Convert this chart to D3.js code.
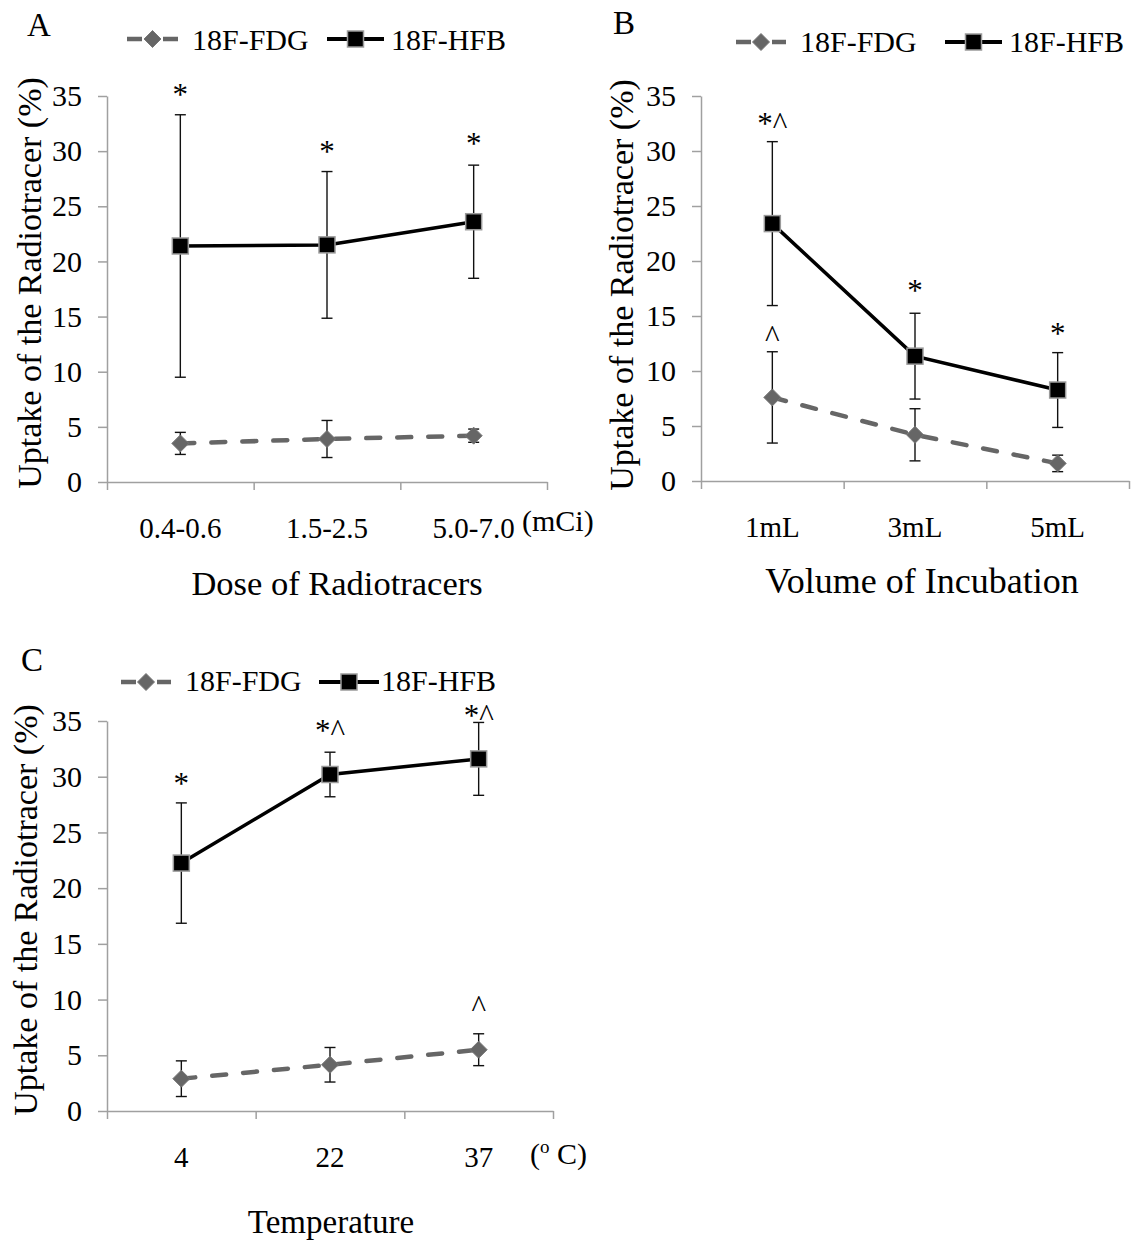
<!DOCTYPE html>
<html>
<head>
<meta charset="utf-8">
<script src="https://cdn.jsdelivr.net/npm/d3@7"></script>
<style>
  html, body { margin: 0; padding: 0; background: #fff; }
  svg { display: block; font-family: "Liberation Serif", "Times New Roman", serif; }
</style>
</head>
<body>
<svg id="fig" width="1133" height="1241"></svg>
<script>
// ---- shared ----
const seriesNames = ["18F-FDG", "18F-HFB"];
const yTicks = [0, 5, 10, 15, 20, 25, 30, 35];
const yLabel = "Uptake of the Radiotracer (%)";

// ---- A: dose of radiotracers ----
const doseCategories = ["0.4-0.6", "1.5-2.5", "5.0-7.0"];
const doseFdgMean = [3.5, 3.9, 4.2];
const doseFdgErr = [1.0, 1.68, 0.6];
const doseHfbMean = [21.4, 21.5, 23.6];
const doseHfbErr = [11.9, 6.65, 5.13];
const doseHfbNote = ["*", "*", "*"];
const doseHfbNoteAt = [35.5, 30.3, 31.1];
const doseFdgNote = ["", "", ""];
const doseFdgNoteAt = [null, null, null];

// ---- B: volume of incubation ----
const volumeCategories = ["1mL", "3mL", "5mL"];
const volumeFdgMean = [7.6, 4.2, 1.6];
const volumeFdgErr = [4.15, 2.37, 0.75];
const volumeHfbMean = [23.4, 11.35, 8.27];
const volumeHfbErr = [7.45, 3.9, 3.4];
const volumeHfbNote = ["*^", "*", "*"];
const volumeHfbNoteAt = [32.9, 17.7, 13.8];
const volumeFdgNote = ["^", "", ""];
const volumeFdgNoteAt = [13.5, null, null];

// ---- C: temperature ----
const tempCategories = ["4", "22", "37"];
const tempFdgMean = [2.9, 4.15, 5.5];
const tempFdgErr = [1.6, 1.55, 1.43];
const tempHfbMean = [22.25, 30.2, 31.6];
const tempHfbErr = [5.4, 2.0, 3.27];
const tempHfbNote = ["*", "*^", "*^"];
const tempHfbNoteAt = [29.8, 34.5, 35.85];
const tempFdgNote = ["", "", "^"];
const tempFdgNoteAt = [null, null, 9.75];

const FDG_COLOR = "#666666";
const HFB_COLOR = "#000000";
const AXIS_COLOR = "#a0a0a0";
const SERIF = "Liberation Serif, Times New Roman, serif";

const svg = d3.select("#fig");

function zipRows(cats, mean, err, note, noteAt) {
  return cats.map((c, i) => ({ cat: c, v: mean[i], e: err[i], note: note[i], at: noteAt[i] }));
}

function drawPanel(p) {
  const g = svg.append("g");
  const x = d3.scaleBand().domain(p.categories).range([p.x0, p.x1]).paddingInner(0).paddingOuter(0);
  const cx = c => x(c) + x.bandwidth() / 2;
  const y = d3.scaleLinear().domain([0, 35]).range([p.yBottom, p.yTop]);
  const edge = d3.scaleLinear().domain([0, p.categories.length]).range([p.x0, p.x1]);

  // y axis
  const ya = g.append("g").attr("transform", `translate(${p.x0},0)`)
    .call(d3.axisLeft(y).tickValues(yTicks).tickSize(9).tickSizeOuter(0).tickPadding(16));
  ya.attr("font-family", SERIF);
  ya.select(".domain").attr("stroke", AXIS_COLOR).attr("stroke-width", 1.5);
  ya.selectAll(".tick line").attr("stroke", AXIS_COLOR).attr("stroke-width", 1.5);
  ya.selectAll(".tick text").attr("font-size", 30).attr("fill", "#000");

  // x axis: boundary ticks between categories
  const xa = g.append("g").attr("transform", `translate(0,${p.yBottom})`)
    .call(d3.axisBottom(edge).tickValues(d3.range(p.categories.length + 1)).tickSize(8).tickSizeOuter(0).tickFormat(""));
  xa.select(".domain").attr("stroke", AXIS_COLOR).attr("stroke-width", 1.5);
  xa.selectAll(".tick line").attr("stroke", AXIS_COLOR).attr("stroke-width", 1.5);

  // category labels
  g.selectAll("text.cat").data(p.categories).join("text")
    .attr("class", "cat")
    .attr("x", d => cx(d)).attr("y", p.catBaseline)
    .attr("text-anchor", "middle").attr("font-size", 29).text(d => d);

  // unit label
  if (p.unit) {
    const u = g.append("text").attr("x", p.unit.x).attr("y", p.unit.y).attr("font-size", 30);
    p.unit.parts.forEach(part => {
      const t = u.append("tspan").text(part.t);
      if (part.size) t.attr("font-size", part.size);
      if (part.dy) t.attr("dy", part.dy);
    });
  }

  // axis titles
  g.append("text").attr("x", p.titleX).attr("y", p.titleY).attr("text-anchor", "middle")
    .attr("font-size", p.titleSize).text(p.title);
  g.append("text").attr("transform", `translate(${p.yLabelX},${p.yLabelY}) rotate(-90)`)
    .attr("text-anchor", "middle").attr("font-size", 34).text(yLabel);

  // panel letter
  g.append("text").attr("x", p.letterX).attr("y", p.letterY).attr("font-size", 33).text(p.letter);

  const series = [
    { rows: p.fdg, color: FDG_COLOR, dashed: true, marker: "diamond" },
    { rows: p.hfb, color: HFB_COLOR, dashed: false, marker: "square" }
  ];

  const line = d3.line().x(d => cx(d.cat)).y(d => y(d.v));
  const cap = 5.5;

  series.forEach(s => {
    const sg = g.append("g");
    // error bars
    const eb = sg.selectAll("g.err").data(s.rows).join("g").attr("class", "err")
      .attr("stroke", "#111").attr("stroke-width", 1.4);
    eb.append("line").attr("x1", d => cx(d.cat)).attr("x2", d => cx(d.cat))
      .attr("y1", d => y(d.v + d.e)).attr("y2", d => y(d.v - d.e));
    eb.append("line").attr("x1", d => cx(d.cat) - cap).attr("x2", d => cx(d.cat) + cap)
      .attr("y1", d => y(d.v + d.e)).attr("y2", d => y(d.v + d.e));
    eb.append("line").attr("x1", d => cx(d.cat) - cap).attr("x2", d => cx(d.cat) + cap)
      .attr("y1", d => y(d.v - d.e)).attr("y2", d => y(d.v - d.e));

    // connecting line
    const path = sg.append("path").datum(s.rows).attr("d", line).attr("fill", "none")
      .attr("stroke", s.color);
    if (s.dashed) {
      path.attr("stroke-width", 4.5).attr("stroke-dasharray", "14,17").attr("stroke-linecap", "round");
    } else {
      path.attr("stroke-width", 3.5);
    }

    // markers
    drawMarkers(sg, s.rows.map(d => [cx(d.cat), y(d.v)]), s.marker);

    // significance notes
    sg.selectAll("text.note").data(s.rows.filter(d => d.note)).join("text")
      .attr("class", "note")
      .attr("x", d => cx(d.cat)).attr("y", d => y(d.at)).attr("dy", "0.47em")
      .attr("text-anchor", "middle").attr("font-size", 31).text(d => d.note);
  });

  // legend
  const L = p.legend;
  const lg = g.append("g");
  lg.append("line").attr("x1", L.fdg[0]).attr("x2", L.fdg[1]).attr("y1", L.y).attr("y2", L.y)
    .attr("stroke", FDG_COLOR).attr("stroke-width", 4.5).attr("stroke-dasharray", "15,21,15");
  drawMarkers(lg, [[(L.fdg[0] + L.fdg[1]) / 2, L.y]], "diamond");
  lg.append("text").attr("x", L.fdgText).attr("y", L.textY).attr("font-size", 30).text(seriesNames[0]);
  lg.append("line").attr("x1", L.hfb[0]).attr("x2", L.hfb[1]).attr("y1", L.y).attr("y2", L.y)
    .attr("stroke", HFB_COLOR).attr("stroke-width", 4);
  drawMarkers(lg, [[(L.hfb[0] + L.hfb[1]) / 2, L.y]], "square");
  lg.append("text").attr("x", L.hfbText).attr("y", L.textY).attr("font-size", 30).text(seriesNames[1]);
}

function drawMarkers(sel, pts, kind) {
  if (kind === "diamond") {
    const r = 8.5;
    sel.selectAll(null).data(pts).join("path")
      .attr("d", d => `M${d[0]},${d[1] - r}L${d[0] + r},${d[1]}L${d[0]},${d[1] + r}L${d[0] - r},${d[1]}Z`)
      .attr("fill", FDG_COLOR).attr("stroke", "#777").attr("stroke-width", 1);
  } else {
    const h = 8;
    sel.selectAll(null).data(pts).join("rect")
      .attr("x", d => d[0] - h).attr("y", d => d[1] - h).attr("width", 2 * h).attr("height", 2 * h)
      .attr("fill", "#000").attr("stroke", "#9a9a9a").attr("stroke-width", 1.5);
  }
}

drawPanel({
  letter: "A", letterX: 27, letterY: 36,
  categories: doseCategories,
  fdg: zipRows(doseCategories, doseFdgMean, doseFdgErr, doseFdgNote, doseFdgNoteAt),
  hfb: zipRows(doseCategories, doseHfbMean, doseHfbErr, doseHfbNote, doseHfbNoteAt),
  x0: 107, x1: 547, yTop: 96, yBottom: 482,
  catBaseline: 538,
  unit: { x: 522, y: 531, parts: [{ t: "(mCi)" }] },
  title: "Dose of Radiotracers", titleX: 337, titleY: 595, titleSize: 34.5,
  yLabelX: 41, yLabelY: 283,
  legend: { y: 39, textY: 50, fdg: [127, 178], fdgText: 192, hfb: [327, 384], hfbText: 391 }
});

drawPanel({
  letter: "B", letterX: 613, letterY: 34,
  categories: volumeCategories,
  fdg: zipRows(volumeCategories, volumeFdgMean, volumeFdgErr, volumeFdgNote, volumeFdgNoteAt),
  hfb: zipRows(volumeCategories, volumeHfbMean, volumeHfbErr, volumeHfbNote, volumeHfbNoteAt),
  x0: 701, x1: 1129, yTop: 96, yBottom: 481,
  catBaseline: 537,
  unit: null,
  title: "Volume of Incubation", titleX: 922, titleY: 593, titleSize: 36,
  yLabelX: 633, yLabelY: 285,
  legend: { y: 42, textY: 52, fdg: [736, 786], fdgText: 800, hfb: [945, 1002], hfbText: 1009 }
});

drawPanel({
  letter: "C", letterX: 21, letterY: 671,
  categories: tempCategories,
  fdg: zipRows(tempCategories, tempFdgMean, tempFdgErr, tempFdgNote, tempFdgNoteAt),
  hfb: zipRows(tempCategories, tempHfbMean, tempHfbErr, tempHfbNote, tempHfbNoteAt),
  x0: 107, x1: 553, yTop: 721, yBottom: 1111,
  catBaseline: 1167,
  unit: { x: 530, y: 1164, parts: [{ t: "(" }, { t: "o", size: 19, dy: -11 }, { t: " C)", dy: 11 }] },
  title: "Temperature", titleX: 331, titleY: 1233, titleSize: 33,
  yLabelX: 37, yLabelY: 910,
  legend: { y: 682, textY: 691, fdg: [121, 171], fdgText: 185, hfb: [319, 379], hfbText: 381 }
});
</script>
</body>
</html>
